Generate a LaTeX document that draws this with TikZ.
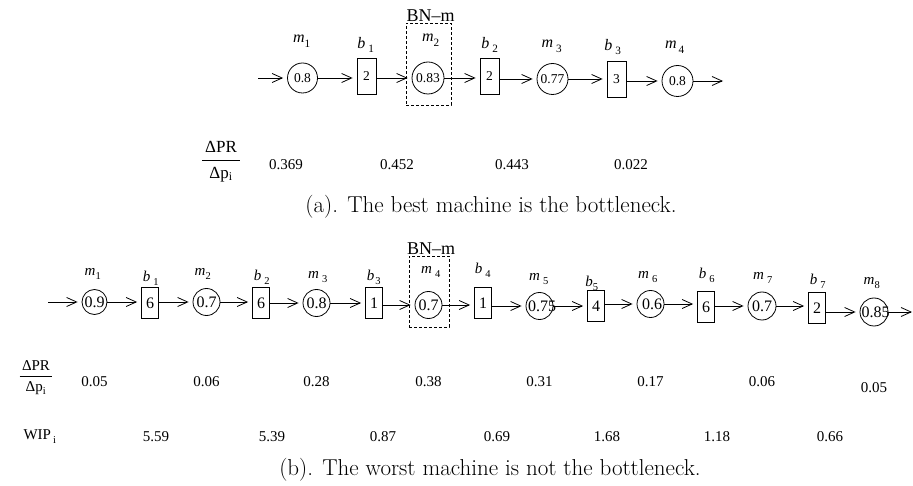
\documentclass[tikz,border=0pt]{standalone}
\usepackage{fontspec}
\newfontfamily\tms{Liberation Serif}
\usetikzlibrary{arrows.meta, positioning}

% italic name with an (optionally spaced) upright index
\newcommand{\lbl}[3]{\textit{#1}\kern#2\raisebox{-2pt}{\textsubscript{#3}}}
% text that does not widen its node
\newcommand{\ctr}[1]{\makebox[0pt]{#1}}

\begin{document}
\begin{tikzpicture}[x=1pt, y=-1pt,
    machA/.style={draw, circle, line width=0.8pt, inner sep=0pt, minimum size=31pt,
      font=\tms\fontsize{13.5}{13.5}\selectfont},
    bufA/.style={draw, rectangle, line width=0.8pt, inner sep=0pt, minimum width=19pt,
      minimum height=36pt, font=\tms\fontsize{13.5}{13.5}\selectfont},
    machB/.style={draw, circle, line width=0.8pt, inner sep=0pt, minimum size=27pt,
      font=\tms\fontsize{16}{16}\selectfont},
    bufB/.style={draw, rectangle, line width=0.8pt, inner sep=0pt, minimum width=17pt,
      minimum height=31pt, font=\tms\fontsize{16}{16}\selectfont},
    flow/.style={line width=0.8pt, -{Straight Barb[length=10pt, width=9pt]}, shorten >=4pt},
    bnbox/.style={draw, dash pattern=on 3pt off 2pt, line width=0.8pt, inner sep=0pt},
    bnlbl/.style={inner sep=0pt, font=\tms\fontsize{18}{18}\selectfont},
    lblA/.style={inner sep=0pt, font=\tms\fontsize{16}{16}\selectfont},
    lblB/.style={inner sep=0pt, font=\tms\fontsize{15}{15}\selectfont},
    val/.style={inner sep=0pt, font=\tms\fontsize{15}{15}\selectfont},
    capt/.style={inner sep=0pt, font=\fontsize{23}{23}\selectfont}]
  \useasboundingbox (0,0) rectangle (913,486);

  %% (a) four machines, the best one is the bottleneck
  \coordinate (inA) at (258,78);
  \node[machA, minimum size=30pt] (mA1) at (302.5,78) {\ctr{0.8}};
  \node[bufA] (bA1) at (366.5,76) {2};
  \node[machA, minimum size=32pt] (mA2) at (428,78) {\ctr{0.83}};
  \node[bufA] (bA2) at (489.5,76) {2};
  \node[machA] (mA3) at (552.5,79) {\ctr{0.77}};
  \node[bufA] (bA3) at (616.5,79.5) {3};
  \node[machA] (mA4) at (677.5,81) {\ctr{0.8}};
  \coordinate (outA) at (723,81);
  \draw[flow] (inA) -- (mA1.west);
  \draw[flow] (mA1.east) -- (mA1.east -| bA1.west);
  \draw[flow] (bA1.east |- mA2) -- (mA2.west);
  \draw[flow] (mA2.east) -- (mA2.east -| bA2.west);
  \draw[flow] (bA2.east |- mA3) -- (mA3.west);
  \draw[flow] (mA3.east) -- (mA3.east -| bA3.west);
  \draw[flow] (bA3.east |- mA4) -- (mA4.west);
  \draw[flow, shorten >=0pt] (mA4.east) -- (outA);
  \node[bnbox, minimum width=45pt, minimum height=82pt] (bnA) at (428.5,64) {};
  \node[bnlbl, above=1pt of bnA, xshift=2pt] (bnlA) {BN–m};
  \node[lblA] (lmA1) at (302,41) {\lbl{m}{0pt}{1}};
  \node[lblA] (lbA1) at (366,45) {\lbl{b}{3pt}{1}};
  \node[lblA] (lmA2) at (431,40) {\lbl{m}{0pt}{2}};
  \node[lblA] (lbA2) at (490,45) {\lbl{b}{3pt}{2}};
  \node[lblA] (lmA3) at (552,46) {\lbl{m}{3pt}{3}};
  \node[lblA] (lbA3) at (613,47) {\lbl{b}{3pt}{3}};
  \node[lblA] (lmA4) at (675,47) {\lbl{m}{2pt}{4}};
  \node[val, font=\tms\fontsize{17}{17}\selectfont] (fracA) at (221,162)
    {\begin{tabular}{@{\,}c@{\,}}ΔPR\\[2pt]\hline
      \rule{0pt}{18pt}Δp\textsubscript{i}\end{tabular}};
  \node[val] (dA1) at (286,165) {0.369};
  \node[val] (dA2) at (397,165) {0.452};
  \node[val] (dA3) at (512,165) {0.443};
  \node[val] (dA4) at (631,165) {0.022};
  \node[capt] (captA) at (491,207) {(a). The best machine is the bottleneck.};

  %% (b) eight machines, the worst one is not the bottleneck
  \coordinate (inB) at (48,302);
  \node[machB, minimum size=25pt] (mB1) at (94.5,302) {\ctr{0.9}};
  \node[bufB] (bB1) at (150,303) {6};
  \node[machB] (mB2) at (206.5,302) {\ctr{0.7}};
  \node[bufB] (bB2) at (261,303) {6};
  \node[machB] (mB3) at (316.5,303) {\ctr{0.8}};
  \node[bufB] (bB3) at (374,303) {1};
  \node[machB] (mB4) at (428.5,305) {\ctr{0.7}};
  \node[bufB] (bB4) at (483,303) {1};
  \node[machB] (mB5) at (539.5,306) {\ctr{\hspace{5pt}0.75}};
  \node[bufB] (bB5) at (596,306) {4};
  \node[machB] (mB6) at (650.5,304) {\ctr{\hspace{3pt}0.6}};
  \node[bufB] (bB6) at (706,307) {6};
  \node[machB, minimum size=28pt] (mB7) at (762,306) {\ctr{0.7}};
  \node[bufB] (bB7) at (817,308) {2};
  \node[machB, minimum size=28pt] (mB8) at (874,312) {\ctr{\raisebox{-3pt}{\hspace{3pt}0.85}}};
  \coordinate (outB) at (912,312);
  \draw[flow] (inB) -- (mB1.west);
  \draw[flow] (mB1.east) -- (mB1.east -| bB1.west);
  \draw[flow] (bB1.east |- mB2) -- (mB2.west);
  \draw[flow] (mB2.east) -- (mB2.east -| bB2.west);
  \draw[flow] (bB2.east |- mB3) -- (mB3.west);
  \draw[flow] (mB3.east) -- (mB3.east -| bB3.west);
  \draw[flow] (bB3.east |- mB4) -- (mB4.west);
  \draw[flow] (mB4.east) -- (mB4.east -| bB4.west);
  \draw[flow] (bB4.east |- mB5) -- (mB5.west);
  \draw[flow] (mB5.east) -- (mB5.east -| bB5.west);
  \draw[flow] (bB5.east |- mB6) -- (mB6.west);
  \draw[flow] (mB6.east) -- (mB6.east -| bB6.west);
  \draw[flow] (bB6.east |- mB7) -- (mB7.west);
  \draw[flow] (mB7.east) -- (mB7.east -| bB7.west);
  \draw[flow] (bB7.east |- mB8) -- (mB8.west);
  \draw[flow, shorten >=0pt] (mB8.east) -- (outB);
  \node[bnbox, minimum width=40pt, minimum height=71pt] (bnB) at (429,291.5) {};
  \node[bnlbl, above=1pt of bnB, xshift=2pt] (bnlB) {BN–m};
  \node[lblB] (lmB1) at (93,274) {\lbl{m}{0pt}{1}};
  \node[lblB] (lbB1) at (151,278) {\lbl{b}{3pt}{1}};
  \node[lblB] (lmB2) at (203,274) {\lbl{m}{0pt}{2}};
  \node[lblB] (lbB2) at (262,277) {\lbl{b}{3pt}{2}};
  \node[lblB] (lmB3) at (318,277) {\lbl{m}{3pt}{3}};
  \node[lblB] (lbB3) at (374,277) {\lbl{b}{1pt}{3}};
  \node[lblB] (lmB4) at (431,272) {\lbl{m}{3pt}{4}};
  \node[lblB] (lbB4) at (483,270) {\lbl{b}{3pt}{4}};
  \node[lblB] (lmB5) at (539,279) {\lbl{m}{3pt}{5}};
  \node[lblB] (lbB5) at (592,283) {\lbl{b}{0pt}{5}};
  \node[lblB] (lmB6) at (648,277) {\lbl{m}{3pt}{6}};
  \node[lblB] (lbB6) at (707,275) {\lbl{b}{3pt}{6}};
  \node[lblB] (lmB7) at (763,278) {\lbl{m}{3pt}{7}};
  \node[lblB] (lbB7) at (818,281) {\lbl{b}{3pt}{7}};
  \node[lblB] (lmB8) at (872,283) {\lbl{m}{0pt}{8}};
  \node[val, font=\tms\fontsize{15}{15}\selectfont] (fracB) at (36,378)
    {\begin{tabular}{@{\,}c@{\,}}ΔPR\\[1pt]\hline
      \rule{0pt}{16pt}Δp\textsubscript{i}\end{tabular}};
  \node[val] (dB1) at (mB1 |- 0,382) {0.05};
  \node[val] (dB2) at (mB2 |- 0,382) {0.06};
  \node[val] (dB3) at (mB3 |- 0,382) {0.28};
  \node[val] (dB4) at (mB4 |- 0,382) {0.38};
  \node[val] (dB5) at (mB5 |- 0,382) {0.31};
  \node[val] (dB6) at (mB6 |- 0,382) {0.17};
  \node[val] (dB7) at (mB7 |- 0,382) {0.06};
  \node[val] (dB8) at (mB8 |- 0,388) {0.05};
  \node[val] (wipB) at (40,437) {WIP\kern2pt\raisebox{-2pt}{\textsubscript{i}}};
  \node[val] (wB1) at (156,437) {5.59};
  \node[val] (wB2) at (272,437) {5.39};
  \node[val] (wB3) at (383,437) {0.87};
  \node[val] (wB4) at (497,437) {0.69};
  \node[val] (wB5) at (607,437) {1.68};
  \node[val] (wB6) at (717,437) {1.18};
  \node[val] (wB7) at (830,437) {0.66};
  \node[capt] (captB) at (490,470) {(b). The worst machine is not the bottleneck.};
\end{tikzpicture}
\end{document}
